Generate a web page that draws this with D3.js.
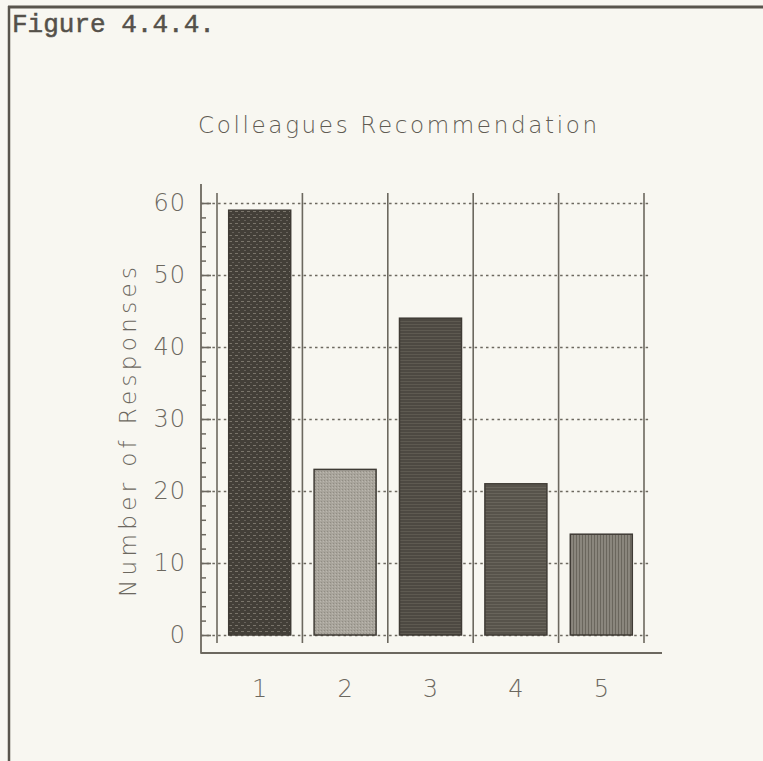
<!DOCTYPE html>
<html>
<head>
<meta charset="utf-8">
<script src="https://cdn.jsdelivr.net/npm/d3@7"></script>
<style>
  html, body { margin: 0; padding: 0; background: #f8f7f1; }
  svg { display: block; }
</style>
</head>
<body>
<svg id="chart" width="763" height="761"></svg>
<script>
// ---- data ----
const categories = ["1", "2", "3", "4", "5"];
const responses = [59, 23, 44, 21, 14];
const yTicks = [0, 10, 20, 30, 40, 50, 60];
const yMinorTicks = [2, 4, 6, 8, 12, 14, 16, 18, 22, 24, 26, 28, 32, 34, 36, 38, 42, 44, 46, 48, 52, 54, 56, 58];
const barPatterns = ["p1", "p2", "p3", "p4", "p5"];
const chartTitle = "Colleagues Recommendation";
const yLabel = "Number of Responses";
const figureLabel = "Figure 4.4.4.";

// ---- styles ----
const ink = "#6c685f";
const frame = "#59554d";
const fontSans = "'DejaVu Sans', 'Liberation Sans', sans-serif";

const svg = d3.select("#chart");

svg.append("rect").attr("width", 763).attr("height", 761).attr("fill", "#f8f7f1");

// patterns
const defs = svg.append("defs");
function pat(id, w, h, bg, draw) {
  const p = defs.append("pattern").attr("id", id).attr("patternUnits", "userSpaceOnUse")
    .attr("width", w).attr("height", h);
  p.append("rect").attr("width", w).attr("height", h).attr("fill", bg);
  draw(p);
}
pat("p1", 6, 6, "#433f38", p => {
  p.append("rect").attr("x", 1).attr("y", 1).attr("width", 3).attr("height", 1).attr("fill", "#7a756b");
  p.append("rect").attr("x", 4).attr("y", 4).attr("width", 2).attr("height", 1).attr("fill", "#66615a");
});
pat("p2", 3, 3, "#a9a59c", p => {
  p.append("rect").attr("x", 0).attr("y", 0).attr("width", 1).attr("height", 1).attr("fill", "#918d84");
  p.append("rect").attr("x", 2).attr("y", 1).attr("width", 1).attr("height", 1).attr("fill", "#bbb7af");
});
pat("p3", 4, 3, "#4d4942", p => {
  p.append("rect").attr("x", 0).attr("y", 0).attr("width", 4).attr("height", 1).attr("fill", "#5e5a51");
});
pat("p4", 4, 3, "#57534b", p => {
  p.append("rect").attr("x", 0).attr("y", 1).attr("width", 4).attr("height", 1).attr("fill", "#68645b");
});
pat("p5", 3, 3, "#8a867d", p => {
  p.append("rect").attr("x", 0).attr("y", 0).attr("width", 1).attr("height", 3).attr("fill", "#6a665d");
});

// frame (top and left)
svg.append("line").attr("x1", 8).attr("x2", 763).attr("y1", 7).attr("y2", 7)
  .attr("stroke", frame).attr("stroke-width", 3);
svg.append("line").attr("x1", 9).attr("x2", 9).attr("y1", 6).attr("y2", 761)
  .attr("stroke", frame).attr("stroke-width", 2.5);

// figure label
svg.append("text").attr("x", 12).attr("y", 32)
  .attr("font-family", "'Liberation Mono', 'DejaVu Sans Mono', monospace")
  .attr("font-size", 26).attr("fill", "#55514a").attr("stroke", "#55514a").attr("stroke-width", 0.5)
  .text(figureLabel);

// scales
const x = d3.scaleBand().domain(categories).range([217, 644]).paddingInner(0.274).paddingOuter(0.137);
const y = d3.scaleLinear().domain([0, 60]).range([635, 203]);

const axisX0 = 201, plotRight = 650, axisBottomY = 653;

// horizontal dotted grid
const grid = svg.append("g").attr("transform", `translate(${axisX0},0)`)
  .call(d3.axisRight(y).tickValues(yTicks).tickSize(plotRight - axisX0).tickFormat(""));
grid.select(".domain").remove();
grid.selectAll("line").attr("stroke", ink).attr("stroke-width", 1.5).attr("stroke-dasharray", "2.5,3.2");

// vertical solid separator lines (band boundaries)
const step = x.step();
const bounds = d3.range(categories.length + 1).map(i => x.range()[0] + i * step);
svg.append("g").selectAll("line").data(bounds).join("line")
  .attr("x1", d => d).attr("x2", d => d).attr("y1", 193).attr("y2", 643)
  .attr("stroke", ink).attr("stroke-width", 1.6);

// bars
svg.append("g").selectAll("rect").data(responses).join("rect")
  .attr("x", (d, i) => x(categories[i]))
  .attr("y", d => y(d))
  .attr("width", x.bandwidth())
  .attr("height", d => y(0) - y(d))
  .attr("fill", (d, i) => `url(#${barPatterns[i]})`)
  .attr("stroke", "#3f3b35").attr("stroke-width", 1.5);

// y axis: major ticks + labels
const yAxis = svg.append("g").attr("transform", `translate(${axisX0},0)`)
  .call(d3.axisLeft(y).tickValues(yTicks).tickSizeInner(-10).tickSizeOuter(0).tickPadding(15));
yAxis.select(".domain").remove();
yAxis.selectAll("line").attr("stroke", ink).attr("stroke-width", 1.6);
yAxis.selectAll("text").attr("font-family", fontSans).attr("font-weight", 200)
  .attr("font-size", 24).attr("fill", ink).attr("letter-spacing", 1);

// minor ticks
const yMinor = svg.append("g").attr("transform", `translate(${axisX0},0)`)
  .call(d3.axisLeft(y).tickValues(yMinorTicks).tickSizeInner(-5).tickSizeOuter(0).tickFormat(""));
yMinor.select(".domain").remove();
yMinor.selectAll("line").attr("stroke", ink).attr("stroke-width", 1.5);

// axis lines
svg.append("line").attr("x1", axisX0).attr("x2", axisX0).attr("y1", 184).attr("y2", axisBottomY + 0.8)
  .attr("stroke", ink).attr("stroke-width", 1.8);
svg.append("line").attr("x1", axisX0).attr("x2", 662).attr("y1", axisBottomY).attr("y2", axisBottomY)
  .attr("stroke", ink).attr("stroke-width", 1.8);

// x axis labels
const xAxis = svg.append("g").attr("transform", `translate(0,${axisBottomY})`)
  .call(d3.axisBottom(x).tickSize(0).tickPadding(27));
xAxis.select(".domain").remove();
xAxis.selectAll("text").attr("font-family", fontSans).attr("font-weight", 200)
  .attr("font-size", 24).attr("fill", ink);

// title
svg.append("text").attr("x", 198).attr("y", 133)
  .attr("font-family", fontSans).attr("font-weight", 200)
  .attr("font-size", 23).attr("fill", "#5f5b53")
  .attr("textLength", 399).attr("lengthAdjust", "spacing")
  .text(chartTitle);

// y label
svg.append("text").attr("transform", "translate(136,597) rotate(-90)")
  .attr("font-family", fontSans).attr("font-weight", 200)
  .attr("font-size", 23).attr("fill", ink)
  .attr("textLength", 330).attr("lengthAdjust", "spacing")
  .text(yLabel);
</script>
</body>
</html>
